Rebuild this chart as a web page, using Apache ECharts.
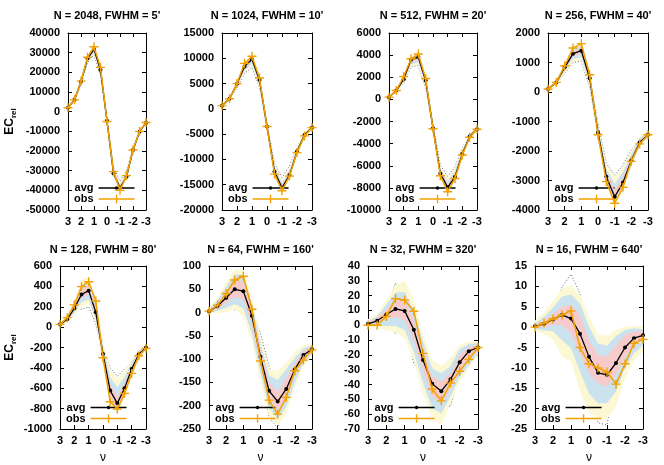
<!DOCTYPE html>
<html>
<head>
<meta charset="utf-8">
<script src="https://cdn.jsdelivr.net/npm/echarts@6/dist/echarts.min.js"></script>
<style>html,body{margin:0;padding:0;background:#fff}#c{width:664px;height:465px}</style>
</head>
<body>
<div id="c"></div>
<script>
// ---------------- data ----------------
const nu = [3, 2.5, 2, 1.5, 1, 0.5, 0, -0.5, -1, -1.5, -2, -2.5, -3];

const titles = ["N = 2048, FWHM = 5'", "N = 1024, FWHM = 10'", "N = 512, FWHM = 20'", "N = 256, FWHM = 40'",
                "N = 128, FWHM = 80'", "N = 64, FWHM = 160'", "N = 32, FWHM = 320'", "N = 16, FWHM = 640'"];

const yMin  = [-50000, -20000, -10000, -4000, -1000, -250, -70, -25];
const yMax  = [40000, 15000, 6000, 2000, 600, 100, 40, 15];
const yStep = [10000, 5000, 2000, 1000, 200, 50, 10, 5];

const avgValues = [
  [2000, 6000, 15300, 27000, 31700, 21200, -4600, -31400, -38700, -33100, -19500, -10200, -5600],
  [600, 2000, 4950, 8400, 9800, 5700, -3500, -12400, -15600, -13100, -8450, -5150, -3700],
  [200, 800, 1830, 3580, 3820, 1700, -2600, -6700, -7950, -7000, -4930, -3360, -2700],
  [100, 325, 835, 1300, 1400, 470, -1370, -2870, -3550, -3070, -2320, -1710, -1450],
  [27, 77, 185, 320, 358, 145, -263, -623, -748, -601, -411, -267, -201],
  [3, 14, 32, 50, 46, -7, -95, -168, -191, -164, -122, -91, -79],
  [1, 3, 7.3, 11, 9.7, -3, -23.5, -39.5, -44.5, -36.5, -25, -17.5, -15],
  [0.2, 0.8, 1.9, 3.0, 2.1, -1.6, -7.3, -11.2, -11.7, -8.8, -5.0, -2.7, -2.0]
];

const obsValues = [
  [2000, 6000, 15500, 27700, 33000, 22500, -5000, -30500, -40000, -32500, -19500, -10000, -5500],
  [600, 2000, 5000, 9000, 10400, 6100, -3500, -12900, -16200, -13300, -8650, -5350, -3700],
  [200, 800, 2070, 3670, 4100, 1890, -2650, -6900, -8350, -7150, -5030, -3420, -2700],
  [100, 325, 890, 1490, 1640, 585, -1450, -3040, -3770, -3230, -2350, -1760, -1450],
  [27, 93, 218, 397, 446, 256, -300, -732, -804, -651, -454, -281, -208],
  [3, 16, 41, 70, 78, 7, -104, -188, -218, -182, -125, -102, -80],
  [0, 0, 6, 18, 17, 9.5, -19, -43, -51, -39, -31, -23, -15],
  [0, 1, 2, 3, 4, -5, -9, -10, -11, -14, -9, -4, -3]
];

// inner band (pink)
const band1Lo = [
  [1950, 5800, 14900, 26400, 31000, 20500, -5000, -31800, -39100, -33500, -19800, -10400, -5750],
  [570, 1900, 4700, 8000, 9350, 5300, -3750, -12600, -15850, -13350, -8650, -5300, -3800],
  [185, 750, 1710, 3380, 3590, 1500, -2720, -6800, -8070, -7120, -5030, -3440, -2760],
  [85, 290, 765, 1210, 1290, 380, -1460, -2950, -3640, -3150, -2390, -1760, -1490],
  [24, 68, 165, 285, 320, 110, -300, -680, -800, -640, -440, -285, -212],
  [1, 9, 20, 34, 27, -27, -113, -185, -210, -184, -135, -100, -84],
  [0.3, 1.5, 4.5, 5.5, 3.5, -10, -31, -48, -52.7, -42.6, -30, -23.4, -17],
  [-0.1, 0, 0.6, 0.5, -1.5, -6.4, -11.3, -13.8, -14.6, -11.7, -7.2, -4.4, -3]
];
const band1Hi = [
  [2050, 6150, 15550, 27300, 32000, 21500, -4200, -30600, -37800, -32300, -19000, -9900, -5400],
  [630, 2080, 5100, 8600, 10000, 5900, -3250, -12000, -15100, -12650, -8150, -4950, -3580],
  [215, 840, 1910, 3680, 3930, 1800, -2480, -6500, -7670, -6750, -4760, -3250, -2630],
  [115, 355, 885, 1370, 1480, 550, -1280, -2740, -3330, -2890, -2210, -1640, -1400],
  [30, 88, 210, 370, 410, 190, -225, -560, -680, -550, -380, -250, -190],
  [6, 20, 44, 68, 66, 9, -80, -150, -170, -141, -110, -83, -74],
  [2, 5, 10.5, 17, 16, 3.5, -17, -34.5, -38, -32.4, -20, -15, -13],
  [0.6, 1.7, 3.3, 5, 5.4, 3, -3.2, -6.8, -7.2, -4.4, -1.9, -1.1, -1]
];
// middle band (blue)
const band2Lo = [
  [1900, 5600, 14500, 25800, 30300, 19800, -5400, -32200, -39500, -33900, -20100, -10600, -5900],
  [540, 1800, 4450, 7600, 8900, 4900, -4000, -12800, -16100, -13600, -8850, -5450, -3900],
  [170, 700, 1590, 3180, 3360, 1300, -2840, -6900, -8190, -7240, -5130, -3520, -2820],
  [70, 255, 695, 1120, 1180, 290, -1550, -3030, -3730, -3230, -2460, -1810, -1530],
  [20, 58, 140, 245, 270, 75, -340, -720, -830, -680, -470, -305, -222],
  [-1, 4, 10, 18, 9, -45, -130, -205, -228, -202, -150, -108, -89],
  [-0.3, 0, -0.5, -0.5, -3, -18, -39, -56, -59.4, -48, -34.7, -26.8, -18.5],
  [-0.4, -0.8, -1, -3.2, -5.2, -10.9, -16.3, -18.7, -18.7, -15.8, -10, -6.4, -4.5]
];
const band2Hi = [
  [2100, 6300, 15800, 27600, 32300, 21800, -3800, -29800, -36900, -31500, -18500, -9600, -5200],
  [660, 2160, 5250, 8800, 10200, 6100, -3000, -11600, -14600, -12200, -7850, -4750, -3460],
  [230, 880, 1990, 3780, 4040, 1900, -2360, -6300, -7390, -6500, -4590, -3140, -2560],
  [130, 385, 935, 1440, 1560, 630, -1190, -2610, -3110, -2710, -2100, -1570, -1350],
  [34, 100, 235, 410, 440, 235, -185, -490, -590, -490, -345, -232, -180],
  [8, 26, 56, 82, 82, 20, -66, -135, -145, -121, -97, -77, -70],
  [3, 6, 14, 22, 22.5, 10, -11, -29, -32.4, -27.5, -16, -12.6, -12],
  [1, 2.5, 4.8, 7.5, 8, 5.8, 0.1, -4, -4.6, -2.2, -0.7, -0.3, -0.5]
];
// outer band (yellow)
const band3Lo = [
  [1850, 5400, 14100, 25200, 29600, 19100, -5800, -32600, -39900, -34300, -20400, -10800, -6050],
  [510, 1700, 4200, 7200, 8450, 4500, -4250, -13000, -16350, -13850, -9050, -5600, -4000],
  [155, 650, 1470, 2980, 3130, 1100, -2960, -7000, -8310, -7360, -5230, -3600, -2880],
  [55, 220, 625, 1030, 1070, 200, -1640, -3110, -3820, -3310, -2530, -1860, -1570],
  [16, 45, 110, 205, 230, 40, -380, -760, -860, -710, -500, -325, -232],
  [-3, -1, 0, 8, -9, -62, -148, -222, -243, -216, -162, -115, -94],
  [-1, -1.5, -3.5, -4.5, -9, -23.5, -46, -63, -67.3, -52.7, -38, -29, -20],
  [-0.8, -1.7, -3, -7.2, -8.5, -15.8, -20.8, -22.4, -22.5, -19.5, -12.5, -8.1, -6]
];
const band3Hi = [
  [2150, 6450, 16050, 27900, 32600, 22100, -3400, -29000, -36000, -30700, -18000, -9300, -5000],
  [690, 2240, 5400, 9000, 10400, 6300, -2750, -11200, -14100, -11750, -7550, -4550, -3340],
  [245, 920, 2070, 3880, 4150, 2000, -2240, -6100, -7110, -6250, -4420, -3030, -2490],
  [145, 415, 985, 1510, 1640, 710, -1100, -2480, -2890, -2530, -1990, -1500, -1300],
  [38, 112, 265, 460, 490, 280, -145, -420, -510, -430, -310, -215, -170],
  [10, 32, 66, 93, 92, 34, -52, -120, -125, -108, -85, -70, -66],
  [4, 7.5, 17, 27, 30, 17, -5.5, -23.5, -27.5, -22.3, -13.3, -11, -11],
  [1.6, 3.5, 6.5, 9.5, 10.3, 7.9, 2.6, -1.9, -2.2, -0.7, 0.1, 0.3, 0.2]
];
// dotted envelopes (mostly hidden under the bands, peeking out in places)
const minValues = [
  [1950, 5800, 13800, 24800, 29000, 18500, -5000, -31800, -39100, -33500, -19800, -10400, -5750],
  [570, 1900, 4100, 7000, 8200, 4300, -3750, -12600, -15850, -13350, -8650, -5300, -3800],
  [185, 750, 1450, 2950, 3050, 1050, -2720, -6800, -8070, -7120, -5030, -3440, -2760],
  [85, 290, 620, 1000, 1040, 170, -1460, -2950, -3640, -3150, -2390, -1760, -1490],
  [24, 68, 165, 175, 200, 30, -300, -680, -800, -640, -440, -285, -212],
  [1, 9, 20, 5, 27, -27, -113, -225, -248, -184, -135, -100, -84],
  [0.3, 1.5, 4.5, -5.5, 3.5, -26, -31, -48, -52.7, -55, -30, -23.4, -17],
  [-0.1, 0, 0.6, 0.5, -1.5, -6.4, -11.3, -23.5, -24, -11.7, -7.2, -4.4, -3]
];
const maxValues = [
  [2050, 6150, 15550, 27300, 32000, 21500, -3400, -28500, -35200, -30200, -18500, -9900, -5400],
  [630, 2080, 5100, 8600, 10000, 5900, -2900, -10800, -13600, -11300, -7600, -4950, -3580],
  [215, 840, 1910, 3680, 3930, 1800, -2200, -5950, -6950, -6100, -4400, -3250, -2630],
  [115, 355, 885, 1370, 1480, 550, -1080, -2420, -2820, -2480, -1960, -1640, -1400],
  [30, 88, 210, 370, 410, 190, -225, -400, -485, -410, -380, -250, -190],
  [6, 20, 44, 68, 66, 9, -45, -115, -170, -141, -110, -83, -74],
  [2, 5, 10.5, 28.5, 16, 3.5, -17, -34.5, -38, -32.4, -20, -15, -13],
  [0.6, 1.7, 3.3, 9.8, 13, 8.2, -3.2, -6.8, -7.2, -4.4, -1.9, -1.1, -1]
];

// ---------------- layout / style ----------------
const FONT = '"Liberation Sans", Arial, Helvetica, sans-serif';
const ORANGE = '#f2a100';
const C_PINK = '#f7cbcb', C_BLUE = '#cbe2ef', C_YELLOW = '#fbf8d3';
const gridRects = [
  {left: 68, top: 33, width: 78, height: 177},
  {left: 222, top: 33, width: 90, height: 177},
  {left: 389, top: 33, width: 88, height: 177},
  {left: 548, top: 33, width: 100, height: 177},
  {left: 60, top: 266, width: 86, height: 163},
  {left: 209, top: 266, width: 103, height: 163},
  {left: 368, top: 266, width: 110, height: 163},
  {left: 535, top: 266, width: 108, height: 163}
];
const PLUS = 'path://M3.6,0h1.3v8.5h-1.3z M0,3.6h8.5v1.3h-8.5z';
const AVG_ICON = 'path://M0,1.1h36v1.3h-36z M19.75,1.75A1.75,1.75 0 1 1 16.25,1.75A1.75,1.75 0 1 1 19.75,1.75Z';
const OBS_ICON = 'path://M0,3.6h36v1.4h-36z M17.3,0h1.4v8.6h-1.4z';

const option = {
  animation: false,
  backgroundColor: '#fff',
  textStyle: {fontFamily: FONT},
  title: [], legend: [], grid: [], xAxis: [], yAxis: [], series: []
};

function axisCommon(gi) {
  return {
    type: 'value', gridIndex: gi,
    axisLine: {show: true, onZero: false, lineStyle: {color: '#000', width: 1}},
    axisTick: {show: true, inside: true, length: 4, lineStyle: {color: '#000', width: 1}},
    minorTick: {show: false},
    splitLine: {show: false},
    nameMoveOverlap: false
  };
}
const labelStyle = {color: '#000', fontSize: 11, fontWeight: 'bold', fontFamily: FONT};

for (let i = 0; i < 8; i++) {
  const g = gridRects[i];
  const bottomRow = i >= 4;
  option.grid.push(Object.assign({show: false, containLabel: false, outerBoundsMode: 'none'}, g));

  option.title.push({
    text: titles[i], left: g.left + g.width / 2, top: bottomRow ? 244 : 10,
    textAlign: 'center', padding: 0,
    textStyle: {fontSize: 11, fontWeight: 'bold', color: '#000', fontFamily: FONT}
  });

  // x axes (bottom + mirrored top)
  option.xAxis.push(Object.assign(axisCommon(i), {
    position: 'bottom', min: -3, max: 3, interval: 1, inverse: true,
    axisLabel: Object.assign({show: true, margin: 6, showMinLabel: true, showMaxLabel: true}, labelStyle),
    name: bottomRow ? 'ν' : '', nameLocation: 'middle', nameGap: 23,
    nameTextStyle: {fontSize: 12, color: '#000', fontFamily: FONT}
  }));
  option.xAxis.push(Object.assign(axisCommon(i), {
    position: 'top', min: -3, max: 3, interval: 1, inverse: true,
    axisLabel: {show: false}
  }));

  // y axes (left + mirrored right)
  const yl = Object.assign(axisCommon(i), {
    position: 'left', min: yMin[i], max: yMax[i], interval: yStep[i],
    axisLabel: Object.assign({show: true, margin: 8, showMinLabel: true, showMaxLabel: true,
      formatter: v => String(v)}, labelStyle)
  });
  if (i === 0 || i === 4) {
    Object.assign(yl, {
      name: '{a|EC}{b|rel}', nameLocation: 'middle', nameRotate: 90, nameGap: i === 0 ? 50 : 42,
      nameTextStyle: {
        color: '#000', fontFamily: FONT,
        rich: {
          a: {fontSize: 12, fontWeight: 'bold', lineHeight: 16, fontFamily: FONT, color: '#000'},
          b: {fontSize: 8, fontWeight: 'bold', lineHeight: 8, verticalAlign: 'bottom', fontFamily: FONT, color: '#000'}
        }
      }
    });
  }
  option.yAxis.push(yl);
  option.yAxis.push(Object.assign(axisCommon(i), {
    position: 'right', min: yMin[i], max: yMax[i], interval: yStep[i],
    axisLabel: {show: false}
  }));

  const xi = 2 * i, yi = 2 * i;
  const pairs = arr => nu.map((x, j) => [x, arr[j]]);

  // dotted envelopes (drawn underneath bands)
  [minValues[i], maxValues[i]].forEach((arr, k) => {
    option.series.push({
      type: 'line', name: 'env' + k, xAxisIndex: xi, yAxisIndex: yi, z: 1, silent: true,
      data: pairs(arr), symbol: 'none',
      lineStyle: {color: '#666', width: 1, type: [1, 2]}
    });
  });

  // shaded bands
  const bands = [[band3Lo[i], band3Hi[i], C_YELLOW, 2], [band2Lo[i], band2Hi[i], C_BLUE, 3], [band1Lo[i], band1Hi[i], C_PINK, 4]];
  bands.forEach(([lo, hi, color, z]) => {
    option.series.push({
      type: 'custom', xAxisIndex: xi, yAxisIndex: yi, z: z, silent: true,
      data: nu.map((x, j) => [x, lo[j], hi[j]]),
      encode: {x: 0, y: [1, 2]},
      renderItem: (params, api) => {
        if (params.dataIndex !== 0) return null;
        const up = nu.map((x, j) => api.coord([x, hi[j]]));
        const dn = nu.map((x, j) => api.coord([x, lo[j]])).reverse();
        return {type: 'polygon', shape: {points: up.concat(dn)}, style: {fill: color}};
      }
    });
  });

  option.series.push({
    type: 'line', name: 'avg', xAxisIndex: xi, yAxisIndex: yi, z: 5,
    data: pairs(avgValues[i]), color: '#000',
    symbol: 'circle', symbolSize: 4, showSymbol: true,
    itemStyle: {color: '#000', borderWidth: 0},
    lineStyle: {color: '#000', width: 1.3}
  });
  option.series.push({
    type: 'line', name: 'obs', xAxisIndex: xi, yAxisIndex: yi, z: 6,
    data: pairs(obsValues[i]), color: ORANGE,
    symbol: PLUS, symbolSize: 9, showSymbol: true,
    itemStyle: {color: ORANGE, borderWidth: 0},
    lineStyle: {color: ORANGE, width: 1.5}
  });

  option.legend.push({
    left: g.left + 6, top: bottomRow ? 402 : 182.5,
    orient: 'vertical', align: 'right', padding: 0, itemGap: 0,
    itemWidth: 36, itemHeight: 11, selectedMode: false, symbolKeepAspect: true,
    itemStyle: {borderWidth: 0},
    textStyle: {fontSize: 11, fontWeight: 'bold', color: '#000', fontFamily: FONT, lineHeight: 11},
    data: [{name: 'avg', icon: AVG_ICON}, {name: 'obs', icon: OBS_ICON}]
  });
}

const chart = echarts.init(document.getElementById('c'), null, {renderer: 'canvas'});
chart.setOption(option);
</script>
</body>
</html>
